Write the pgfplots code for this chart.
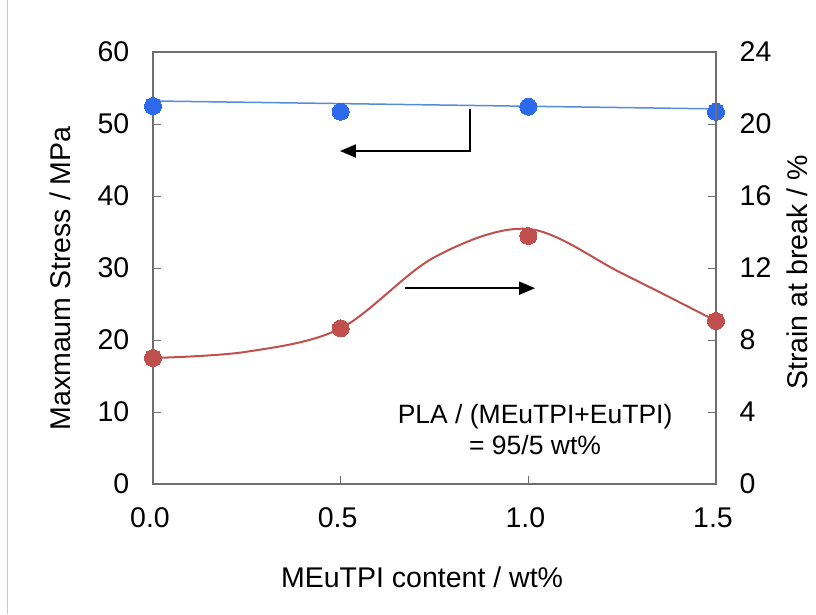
\documentclass[border=0pt]{standalone}
\usepackage{pgfplots}
\pgfplotsset{compat=1.18}
\usepackage{fontspec}
\setmainfont{Liberation Sans}
\usetikzlibrary{arrows.meta}
\definecolor{bluept}{RGB}{45,105,235}
\definecolor{blueln}{RGB}{85,140,215}
\definecolor{redc}{RGB}{192,80,77}
\definecolor{axgray}{RGB}{110,110,110}
\newcommand{\fs}{\fontsize{28.5}{34}\selectfont}
\begin{document}
\fs
\begin{tikzpicture}
\path[use as bounding box] (-153pt,-130pt) rectangle (663pt,484pt);
\draw[black!22, line width=1pt] (-145pt,-130pt) -- (-145pt,484pt);
\begin{axis}[
  scale only axis, width=563pt, height=432pt,
  at={(0,0)}, anchor=south west,
  xmin=0, xmax=1.5, ymin=0, ymax=60,
  xtick={0,0.5,1,1.5}, ytick={0,10,...,60},
  xtick pos=bottom, ytick pos=left,
  tick align=inside, major tick length=8pt,
  axis line style={axgray, line width=1.2pt},
  every tick/.style={axgray, line width=1pt},
  /pgf/number format/assume math mode=true,
  xticklabel style={/pgf/number format/fixed, /pgf/number format/fixed zerofill, /pgf/number format/precision=1, yshift=-14pt, xshift=-3pt},
  yticklabel style={xshift=-14pt},
  tick label style={font=\fs},
  label style={font=\fs},
  xlabel={MEuTPI content / wt\%},
  ylabel={Maxmaum Stress / MPa},
  every axis x label/.style={at={(axis description cs:0.478,-0.2391)}, anchor=base},
  every axis y label/.style={at={(axis description cs:-0.1474,0.4757)}, anchor=base, rotate=90},
  clip=false,
]
\addplot[blueln, line width=1.5pt, no marks] coordinates {(0,53.2) (1.5,52.1)};
\addplot[only marks, color=bluept, mark=*, mark size=8.5pt, mark options={draw=bluept, fill=bluept, line width=0pt}] coordinates {
(0,52.5) (0.5,51.7) (1.0,52.4) (1.5,51.7)};
\draw[black, line width=1.8pt] (axis cs:0.845,52.1) -- (axis cs:0.845,46.25) -- (axis cs:0.53,46.25);
\draw[black, line width=1.8pt, -{Triangle[length=16pt,width=13pt]}] (axis cs:0.56,46.25) -- (axis cs:0.498,46.25);
\draw[black, line width=1.8pt, -{Triangle[length=16pt,width=13pt]}] (axis cs:0.671,27.2) -- (axis cs:1.018,27.2);
\node[anchor=base, font=\fontsize{26.5}{32}\selectfont] at (axis cs:1.018,8.47) {PLA / (MEuTPI+EuTPI)};
\node[anchor=base, font=\fontsize{26.5}{32}\selectfont] at (axis cs:1.018,4.03) {= 95/5 wt\%};
\end{axis}
\begin{axis}[
  scale only axis, width=563pt, height=432pt,
  at={(0,0)}, anchor=south west,
  xmin=0, xmax=1.5, ymin=0, ymax=24,
  ytick={0,4,...,24},
  axis x line=none, axis y line*=right,
  tick align=inside, major tick length=8pt,
  axis line style={axgray, line width=1.2pt, -},
  every tick/.style={axgray, line width=1pt},
  /pgf/number format/assume math mode=true,
  yticklabel style={xshift=14pt},
  tick label style={font=\fs},
  ylabel={Strain at break / \%},
  every axis y label/.style={at={(axis description cs:1.162,0.4896)}, anchor=base, rotate=90, font=\fs},
  clip=false,
]
\addplot[redc, line width=2pt, smooth, tension=0.55, no marks] coordinates {
(0,7.0) (0.25,7.35) (0.5,8.65) (0.75,12.6) (1.0,14.17) (1.25,11.7) (1.5,9.06)};
\addplot[only marks, color=redc, mark=*, mark size=8.5pt, mark options={draw=redc, fill=redc, line width=0pt}] coordinates {
(0,7.0) (0.5,8.65) (1.0,13.78) (1.5,9.06)};
\end{axis}
\end{tikzpicture}
\end{document}
